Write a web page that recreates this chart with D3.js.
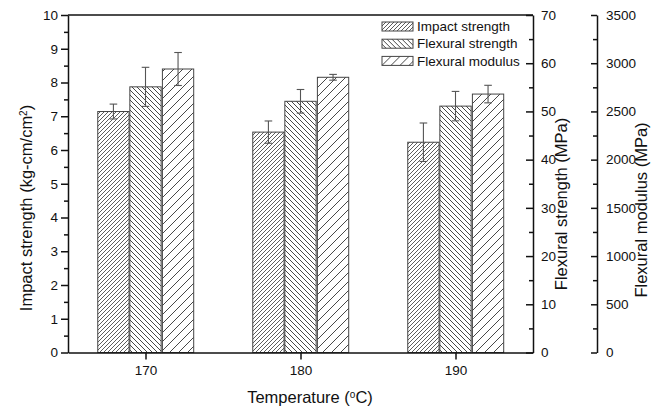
<!DOCTYPE html>
<html>
<head>
<meta charset="utf-8">
<script src="https://cdn.jsdelivr.net/npm/d3@7"></script>
<style>
  html, body { margin: 0; padding: 0; background: #fff; }
  svg { display: block; font-family: "Liberation Sans", Arial, sans-serif; }
  .axis path, .axis line { stroke: #111; stroke-width: 1.5; }
  .axis text { font-size: 13.5px; fill: #111; font-family: "Liberation Sans", Arial, sans-serif; }
  .title { font-size: 16.5px; fill: #111; }
</style>
</head>
<body>
<svg id="chart" width="663" height="407"></svg>
<script>
// Processing temperature (°C)
const temperatures = [170, 180, 190];

// Impact strength (kg-cm/cm²) with standard deviation
const impactStrength = [7.14, 6.53, 6.23];
const impactStrengthErr = [0.22, 0.33, 0.57];

// Flexural strength (MPa) with standard deviation
const flexuralStrength = [55.1, 52.1, 51.1];
const flexuralStrengthErr = [4.05, 2.45, 3.05];

// Flexural modulus (MPa) with standard deviation
const flexuralModulus = [2940, 2854, 2680];
const flexuralModulusErr = [171, 30, 91];

const leftTicks = [0, 1, 2, 3, 4, 5, 6, 7, 8, 9, 10];
const strengthTicks = [0, 10, 20, 30, 40, 50, 60, 70];
const modulusTicks = [0, 500, 1000, 1500, 2000, 2500, 3000, 3500];
const legendLabels = ["Impact strength", "Flexural strength", "Flexural modulus"];

const svg = d3.select("#chart");
const plot = { left: 68, right: 533, top: 15, bottom: 352.5 };
const farAxisX = 597;

const x = d3.scaleLinear().domain([165, 195]).range([plot.left, plot.right]);
const yImpact = d3.scaleLinear().domain([0, 10]).range([plot.bottom, plot.top]);
const yStrength = d3.scaleLinear().domain([0, 70]).range([plot.bottom, plot.top]);
const yModulus = d3.scaleLinear().domain([0, 3500]).range([plot.bottom, plot.top]);

// Hatch patterns for the three series
const defs = svg.append("defs");
function hatch(id, size, forward, width) {
  const p = defs.append("pattern")
    .attr("id", id)
    .attr("patternUnits", "userSpaceOnUse")
    .attr("width", size).attr("height", size);
  p.append("rect").attr("width", size).attr("height", size).attr("fill", "#fff");
  const s = size;
  const d = forward
    ? `M0,${s} L${s},0 M${-1},1 L1,${-1} M${s - 1},${s + 1} L${s + 1},${s - 1}`
    : `M0,0 L${s},${s} M${-1},${s - 1} L1,${s + 1} M${s - 1},${-1} L${s + 1},1`;
  p.append("path").attr("d", d).attr("stroke", "#333").attr("stroke-width", width).attr("fill", "none");
}
hatch("hatch-impact", 4, true, 0.8);
hatch("hatch-strength", 5, false, 0.9);
hatch("hatch-modulus", 9, true, 0.9);

const barWidthUnits = 2.02;
const barPx = x(165 + barWidthUnits) - x(165);
const offsets = [-2.07, 0, 2.1];

const series = [
  { values: impactStrength, errs: impactStrengthErr, y: yImpact, fill: "url(#hatch-impact)" },
  { values: flexuralStrength, errs: flexuralStrengthErr, y: yStrength, fill: "url(#hatch-strength)" },
  { values: flexuralModulus, errs: flexuralModulusErr, y: yModulus, fill: "url(#hatch-modulus)" }
];

const bars = svg.append("g");
series.forEach((s, si) => {
  const g = bars.append("g");
  g.selectAll("rect")
    .data(temperatures)
    .join("rect")
    .attr("x", (t) => x(t + offsets[si]) - barPx / 2)
    .attr("width", barPx)
    .attr("y", (t, i) => s.y(s.values[i]))
    .attr("height", (t, i) => s.y(0) - s.y(s.values[i]))
    .attr("fill", s.fill)
    .attr("stroke", "#444")
    .attr("stroke-width", 1);

  // error bars
  const eg = g.append("g").attr("stroke", "#555").attr("stroke-width", 1.1);
  temperatures.forEach((t, i) => {
    const cx = x(t + offsets[si]);
    const top = s.y(s.values[i] + s.errs[i]);
    const bot = s.y(s.values[i] - s.errs[i]);
    eg.append("line").attr("x1", cx).attr("x2", cx).attr("y1", top).attr("y2", bot);
    eg.append("line").attr("x1", cx - 3.8).attr("x2", cx + 3.8).attr("y1", top).attr("y2", top);
    eg.append("line").attr("x1", cx - 3.8).attr("x2", cx + 3.8).attr("y1", bot).attr("y2", bot);
  });
});

// Axes
const halfTicks = d3.range(0.5, 10, 1);
svg.append("g").attr("class", "axis")
  .attr("transform", `translate(${plot.left},0)`)
  .call(d3.axisLeft(yImpact).tickValues(halfTicks).tickSize(4).tickSizeOuter(0).tickFormat(""))
  .call((g) => g.select(".domain").remove());
svg.append("g").attr("class", "axis")
  .attr("transform", `translate(${plot.left},0)`)
  .call(d3.axisLeft(yImpact).tickValues(leftTicks).tickSize(7).tickSizeOuter(0).tickPadding(3).tickFormat(d3.format("d")));

svg.append("g").attr("class", "axis")
  .attr("transform", `translate(0,${plot.bottom})`)
  .call(d3.axisBottom(x).tickValues(temperatures).tickSize(7).tickSizeOuter(0).tickPadding(6).tickFormat(d3.format("d")));

// top frame
svg.append("line")
  .attr("x1", plot.left).attr("x2", plot.right)
  .attr("y1", plot.top).attr("y2", plot.top)
  .attr("stroke", "#111").attr("stroke-width", 1.5);

const strengthMinor = d3.range(5, 70, 10);
svg.append("g").attr("class", "axis")
  .attr("transform", `translate(${plot.right},0)`)
  .call(d3.axisRight(yStrength).tickValues(strengthMinor).tickSize(-4).tickSizeOuter(0).tickFormat(""))
  .call((g) => g.select(".domain").remove());
svg.append("g").attr("class", "axis")
  .attr("transform", `translate(${plot.right},0)`)
  .call(d3.axisRight(yStrength).tickValues(strengthTicks).tickSize(-7).tickSizeOuter(0).tickPadding(8).tickFormat(d3.format("d")));

const modulusMinor = d3.range(250, 3500, 500);
svg.append("g").attr("class", "axis")
  .attr("transform", `translate(${farAxisX},0)`)
  .call(d3.axisRight(yModulus).tickValues(modulusMinor).tickSize(-4).tickSizeOuter(0).tickFormat(""))
  .call((g) => g.select(".domain").remove());
svg.append("g").attr("class", "axis")
  .attr("transform", `translate(${farAxisX},0)`)
  .call(d3.axisRight(yModulus).tickValues(modulusTicks).tickSize(-6).tickSizeOuter(0).tickPadding(9).tickFormat(d3.format("d")));

// Axis titles
const leftTitle = svg.append("text").attr("class", "title")
  .attr("transform", "translate(26,208) rotate(-90)")
  .attr("text-anchor", "middle").attr("dy", "0.35em");
leftTitle.append("tspan").text("Impact strength (kg-cm/cm");
leftTitle.append("tspan").attr("baseline-shift", "super").attr("font-size", "10px").text("2");
leftTitle.append("tspan").text(")");

svg.append("text").attr("class", "title")
  .attr("transform", "translate(561,204) rotate(-90)")
  .attr("text-anchor", "middle").attr("dy", "0.35em")
  .text("Flexural strength (MPa)");

svg.append("text").attr("class", "title")
  .attr("transform", "translate(641,210) rotate(-90)")
  .attr("text-anchor", "middle").attr("dy", "0.35em")
  .text("Flexural modulus (MPa)");

const xTitle = svg.append("text").attr("class", "title")
  .attr("x", 310).attr("y", 403).attr("text-anchor", "middle");
xTitle.append("tspan").text("Temperature (");
xTitle.append("tspan").attr("baseline-shift", "super").attr("font-size", "10px").text("o");
xTitle.append("tspan").text("C)");

// Legend
const legend = svg.append("g").attr("transform", "translate(382,22)");
legendLabels.forEach((label, i) => {
  const row = legend.append("g").attr("transform", `translate(0,${i * 17.2})`);
  row.append("rect").attr("width", 31).attr("height", 9)
    .attr("fill", series[i].fill).attr("stroke", "#444").attr("stroke-width", 1);
  row.append("text").attr("x", 35).attr("y", 4.5).attr("dy", "0.35em")
    .attr("font-size", "13.5px").attr("fill", "#111").text(label);
});
</script>
</body>
</html>
